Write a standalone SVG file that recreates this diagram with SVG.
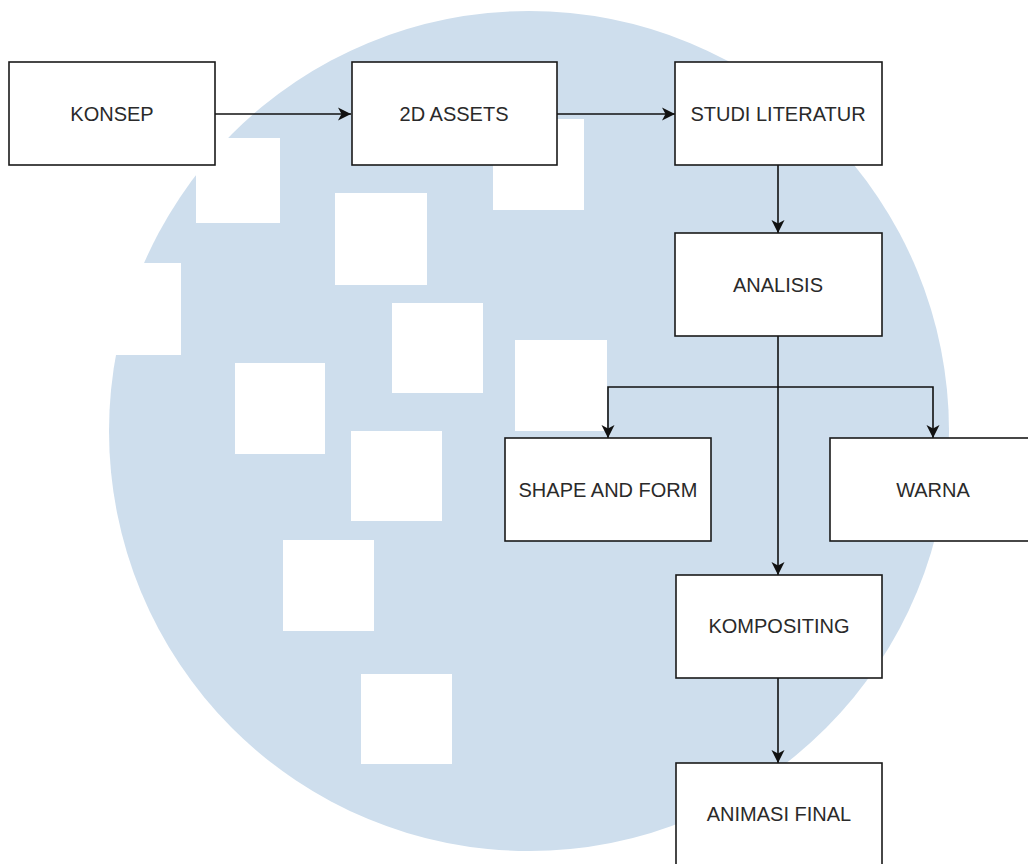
<svg xmlns="http://www.w3.org/2000/svg" width="1028" height="864" viewBox="0 0 1028 864">
<style>
.box{fill:#ffffff;stroke:#1a1a1a;stroke-width:1.6}
.lbl{font-family:"Liberation Sans",Arial,sans-serif;font-size:20px;fill:#2a2a2a;text-anchor:middle}
.edge{fill:none;stroke:#111111;stroke-width:1.6}
.hole{fill:#ffffff}
</style>
<defs>
<marker id="arr" markerUnits="userSpaceOnUse" markerWidth="14" markerHeight="14" viewBox="0 0 14 14" refX="13" refY="7" orient="auto">
<path d="M0,0.5 L13,7 L0,13.5 L3.5,7 z" fill="#111111"/>
</marker>
</defs>
<rect x="0" y="0" width="1028" height="864" fill="#ffffff"/>
<g id="background">
<circle cx="529" cy="431" r="420" fill="#cedeed"/>
<rect class="hole" x="196" y="138" width="84" height="85"/>
<rect class="hole" x="91" y="263" width="90" height="92"/>
<rect class="hole" x="335" y="193" width="92" height="92"/>
<rect class="hole" x="493" y="119" width="91" height="91"/>
<rect class="hole" x="392" y="303" width="91" height="90"/>
<rect class="hole" x="515" y="340" width="92" height="91"/>
<rect class="hole" x="235" y="363" width="90" height="91"/>
<rect class="hole" x="351" y="431" width="91" height="90"/>
<rect class="hole" x="283" y="540" width="91" height="91"/>
<rect class="hole" x="361" y="674" width="91" height="90"/>
</g>
<g id="connectors">
<path class="edge" d="M215,114 H351" marker-end="url(#arr)"/>
<path class="edge" d="M557,114 H675" marker-end="url(#arr)"/>
<path class="edge" d="M778,165 V233" marker-end="url(#arr)"/>
<path class="edge" d="M778,336 V575" marker-end="url(#arr)"/>
<path class="edge" d="M778,387 H608 V438" marker-end="url(#arr)"/>
<path class="edge" d="M778,387 H933 V438" marker-end="url(#arr)"/>
<path class="edge" d="M778,678 V763" marker-end="url(#arr)"/>
</g>
<g id="konsep">
<rect class="box" x="9" y="62" width="206" height="103"/>
<text class="lbl" x="112" y="121">KONSEP</text>
</g>
<g id="assets2d">
<rect class="box" x="352" y="62" width="205" height="103"/>
<text class="lbl" x="454" y="121">2D ASSETS</text>
</g>
<g id="studi">
<rect class="box" x="675" y="62" width="207" height="103"/>
<text class="lbl" x="778" y="121">STUDI LITERATUR</text>
</g>
<g id="analisis">
<rect class="box" x="675" y="233" width="207" height="103"/>
<text class="lbl" x="778" y="292">ANALISIS</text>
</g>
<g id="shape">
<rect class="box" x="505" y="438" width="206" height="103"/>
<text class="lbl" x="608" y="497">SHAPE AND FORM</text>
</g>
<g id="warna">
<rect class="box" x="830" y="438" width="206" height="103"/>
<text class="lbl" x="933" y="497">WARNA</text>
</g>
<g id="kompositing">
<rect class="box" x="676" y="575" width="206" height="103"/>
<text class="lbl" x="779" y="633">KOMPOSITING</text>
</g>
<g id="animasi">
<rect class="box" x="676" y="763" width="206" height="103"/>
<text class="lbl" x="779" y="821">ANIMASI FINAL</text>
</g>
</svg>
